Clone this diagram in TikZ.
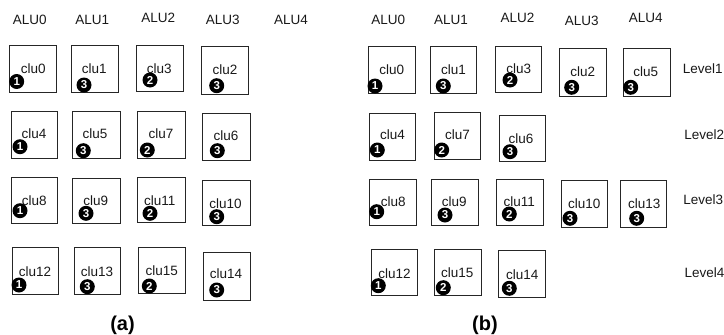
\documentclass[tikz,border=0pt]{standalone}
\usepackage{fontspec}
\setmainfont{Liberation Sans}
\usetikzlibrary{fit}
\tikzset{
  cbox/.style={draw=black!85, line width=0.8pt, inner sep=0pt, rectangle},
  clutext/.style={font=\fontsize{13.5}{14}\selectfont, inner sep=0pt, text=black!90},
  toplabel/.style={font=\fontsize{13.5}{14}\selectfont, inner sep=0pt, text=black!90},
  badge/.style={circle, fill=black, text=white, inner sep=0pt, minimum size=15pt,
                font=\bfseries\fontsize{11.5}{12}\selectfont},
  caption/.style={font=\bfseries\fontsize{20}{22}\selectfont, inner sep=0pt}
}
% id, label, (x1,y1), (x2,y2), text pos, badge pos, number
\newcommand\clubox[7]{%
  \node[cbox, fit={#3 #4}] (#1) {};
  \node[clutext] (#1t) at #5 {#2};
  \node[badge] (#1b) at #6 {#7};
}
\begin{document}
\begin{tikzpicture}[x=1pt,y=-1pt]
\useasboundingbox (0,0) rectangle (724,335);
% ---------- panel (a) ----------
\node[toplabel] (aA0) at (29.7,20) {ALU0};
\node[toplabel] (aA1) at (92.2,20) {ALU1};
\node[toplabel] (aA2) at (158.3,18.3) {ALU2};
\node[toplabel] (aA3) at (222.7,20) {ALU3};
\node[toplabel] (aA4) at (291,20) {ALU4};

\clubox{a0}{clu0}{(9.3,45.7)}{(56,92.3)}{(33.3,69)}{(16.7,81.5)}{1}
\clubox{a1}{clu1}{(71.3,45.7)}{(118.3,92.3)}{(94.3,68.3)}{(84,85)}{3}
\clubox{a3}{clu3}{(136.3,45)}{(183.3,91.7)}{(159.3,68.3)}{(150,80)}{2}
\clubox{a2}{clu2}{(201,46.7)}{(248.3,94.3)}{(225,70)}{(216.7,85.7)}{3}

\clubox{a4}{clu4}{(11,111.6)}{(57.7,158.3)}{(34,133.3)}{(20,146.7)}{1}
\clubox{a5}{clu5}{(72.7,111.6)}{(120,158.3)}{(95,134)}{(83.3,150.7)}{3}
\clubox{a7}{clu7}{(137.7,111.6)}{(185,158.3)}{(161,134)}{(147.3,150)}{2}
\clubox{a6}{clu6}{(202.3,113)}{(250,160)}{(226,136)}{(217.3,150.7)}{3}

\clubox{a8}{clu8}{(11,177.3)}{(57.7,223.3)}{(34.2,201)}{(20,210.7)}{1}
\clubox{a9}{clu9}{(72.7,178.3)}{(120,223.3)}{(95.8,201)}{(86,213.3)}{3}
\clubox{a11}{clu11}{(137.3,177.3)}{(185,222.7)}{(159.7,201)}{(150,213.3)}{2}
\clubox{a10}{clu10}{(202.3,180)}{(250,225.7)}{(225.5,203.3)}{(216.7,216.7)}{3}

\clubox{a12}{clu12}{(12.3,247.3)}{(58.7,294)}{(35,271.7)}{(19,285)}{1}
\clubox{a13}{clu13}{(74,247.3)}{(120.7,294)}{(97,271.7)}{(87.3,286.7)}{3}
\clubox{a15}{clu15}{(138.3,247.3)}{(185.3,293.3)}{(161.7,271)}{(149.3,286)}{2}
\clubox{a14}{clu14}{(203.3,252)}{(250,300)}{(226,273.3)}{(216.7,290)}{3}

\node[caption] (capa) at (122.5,325) {(a)};

% ---------- panel (b) ----------
\node[toplabel] (bA0) at (388.3,20) {ALU0};
\node[toplabel] (bA1) at (451,20) {ALU1};
\node[toplabel] (bA2) at (517.5,18) {ALU2};
\node[toplabel] (bA3) at (581.8,21) {ALU3};
\node[toplabel] (bA4) at (645.8,18) {ALU4};

\clubox{b0}{clu0}{(368.3,46.7)}{(415,93.3)}{(391.8,70)}{(375,86)}{1}
\clubox{b1}{clu1}{(430,46.7)}{(476.7,93.3)}{(453.5,69.3)}{(443.3,86)}{3}
\clubox{b3}{clu3}{(495,46)}{(541.7,92.7)}{(518.7,68.3)}{(510,80)}{2}
\clubox{b2}{clu2}{(559.3,48.3)}{(606.7,96.7)}{(582.8,71.7)}{(571.7,87.3)}{3}
\clubox{b5}{clu5}{(623.3,48.3)}{(670,96)}{(645.8,71.7)}{(630.7,87.3)}{3}

\clubox{b4}{clu4}{(369.3,113)}{(415,160)}{(392.5,135)}{(377.3,150)}{1}
\clubox{b7}{clu7}{(434,112.3)}{(480.7,159.3)}{(457.5,135)}{(441.7,150)}{2}
\clubox{b6}{clu6}{(499,115)}{(545.7,161.7)}{(521,138.3)}{(510,151.7)}{3}

\clubox{b8}{clu8}{(369.3,179)}{(416,225)}{(393.3,201.7)}{(376.7,211.7)}{1}
\clubox{b9}{clu9}{(431,179)}{(478.3,225)}{(454.2,201.7)}{(445,215)}{3}
\clubox{b11}{clu11}{(496.7,179)}{(543.3,225)}{(519.2,201.7)}{(509.3,214)}{2}
\clubox{b10}{clu10}{(561,180.7)}{(607.7,227.7)}{(584.2,203.3)}{(570,218.3)}{3}
\clubox{b13}{clu13}{(620.7,180.7)}{(666.7,227.7)}{(644.2,203.3)}{(636.7,218.3)}{3}

\clubox{b12}{clu12}{(371,249)}{(417.7,295.7)}{(394.5,273.3)}{(378.3,285.7)}{1}
\clubox{b15}{clu15}{(434.3,249)}{(481,295.7)}{(457.3,272.7)}{(443.3,287.7)}{2}
\clubox{b14}{clu14}{(498.3,250.7)}{(545.7,297.3)}{(522.3,274.3)}{(509.3,288.3)}{3}

\node[toplabel] (L1) at (702.8,68.3) {Level1};
\node[toplabel] (L2) at (704.2,135) {Level2};
\node[toplabel] (L3) at (703.3,200) {Level3};
\node[toplabel] (L4) at (704.5,272.7) {Level4};

\node[caption] (capb) at (485,325) {(b)};
\end{tikzpicture}
\end{document}
